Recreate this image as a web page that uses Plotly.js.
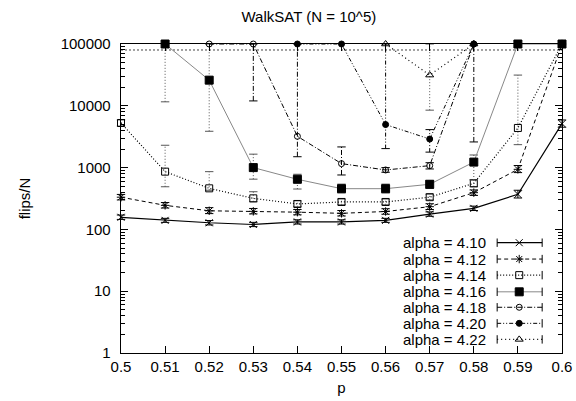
<!DOCTYPE html>
<html>
<head>
<meta charset="utf-8">
<script src="https://cdn.plot.ly/plotly-3.0.1.min.js"></script>
<style>html,body{margin:0;padding:0;background:#fff;}#chart{width:576px;height:401px;}</style>
</head>
<body>
<div id="chart"></div>
<script>
// ---- data ----
const p = [0.5, 0.51, 0.52, 0.53, 0.54, 0.55, 0.56, 0.57, 0.58, 0.59, 0.6];
const xTickText = ["0.5","0.51","0.52","0.53","0.54","0.55","0.56","0.57","0.58","0.59","0.6"];
const yTickVals = [1, 10, 100, 1000, 10000, 100000];
const yTickText = ["1","10","100","1000","10000","100000"];

const labels = ["alpha = 4.10","alpha = 4.12","alpha = 4.14","alpha = 4.16","alpha = 4.18","alpha = 4.20","alpha = 4.22"];

const a410 = [157, 140, 128, 120, 132, 132, 140, 177, 219, 370, 5140];
const a410lo = [145, 130, 118, 111, 122, 122, 130, 163, 202, 322, 4500];
const a410hi = [171, 151, 139, 130, 143, 143, 151, 192, 238, 430, 5900];

const a412 = [332, 245, 200, 196, 190, 182, 195, 233, 393, 938, 100000];
const a412lo = [300, 222, 180, 178, 172, 165, 176, 210, 355, 830, null];
const a412hi = [368, 272, 225, 218, 210, 202, 216, 260, 435, 1080, null];

const a414 = [5270, 860, 462, 318, 258, 278, 278, 332, 557, 4380, 100000];
const a414lo = [4700, 490, 430, 280, 232, 250, 250, 300, 490, 2350, null];
const a414hi = [5900, 2300, 860, 407, 290, 310, 310, 372, 640, 31400, null];

const a416 = [null, 100000, 26000, 1000, 647, 456, 456, 537, 1228, 100000, 100000];
const a416lo = [null, 11600, 3870, 650, 450, 390, 390, 460, 630, null, null];
const a416hi = [null, 100000, 100000, 1650, 780, 540, 540, 620, 1600, null, null];

const a418 = [null, null, 100000, 100000, 3210, 1160, 915, 1075, 100000, null, null];
const a418lo = [null, null, null, 12000, 1500, 760, 840, 950, 2600, null, null];
const a418hi = [null, null, null, 100000, 100000, 2160, 1000, 1200, 100000, null, null];

const a420 = [null, null, null, null, 100000, 100000, 4970, 2900, 100000, null, null];
const a420lo = [null, null, null, null, null, null, 2030, 1780, null, null, null];
const a420hi = [null, null, null, null, null, null, 100000, 4120, null, null, null];

const a422 = [null, null, null, null, null, null, 100000, 31400, 100000, null, null];
const a422lo = [null, null, null, null, null, null, null, 8500, null, null, null];
const a422hi = [null, null, null, null, null, null, null, 100000, null, null, null];

const cutoffX = [0.5, 0.6];
const cutoffY = [80000, 80000];

// ---- styles ----
const FONT = 'Liberation Sans, Arial, sans-serif';
const styles = [
  {color:'#000', dash:'solid', width:1.2, sym:'x-thin-open', size:7},
  {color:'#000', dash:'4px,3px', width:1, sym:'asterisk-open', size:7},
  {color:'#000', dash:'1px,2px', width:1.2, sym:'square-open', size:7},
  {color:'#888', dash:'solid', width:1, sym:'square', size:8},
  {color:'#000', dash:'5px,2px,1px,2px', width:1, sym:'circle-open', size:6},
  {color:'#000', dash:'4px,2px,1px,2px,1px,2px', width:1, sym:'circle', size:6},
  {color:'#000', dash:'1px,3px', width:1.2, sym:'triangle-up-open', size:7}
];
const barDash = ['solid','4px,3px','1px,2px','1px,2px','5px,2px,1px,2px','4px,2px,1px,2px,1px,2px','1px,2px'];
const barColor = ['#000','#000','#555','#555','#000','#000','#555'];

const series = [
  [a410, a410lo, a410hi], [a412, a412lo, a412hi], [a414, a414lo, a414hi],
  [a416, a416lo, a416hi], [a418, a418lo, a418hi], [a420, a420lo, a420hi], [a422, a422lo, a422hi]
];

const traces = [];
traces.push({x: cutoffX, y: cutoffY, mode:'lines', line:{color:'#444', dash:'2px,2px', width:1}, showlegend:false, hoverinfo:'skip'});

series.forEach((s, i) => {
  const [v, lo, hi] = s;
  const st = styles[i];
  const bx = [], by = [], cx = [], cy = [];
  p.forEach((xv, k) => {
    if (lo[k] !== null && hi[k] !== null) {
      bx.push(xv, xv, null); by.push(lo[k], hi[k], null);
      cx.push(xv, xv); cy.push(lo[k], hi[k]);
    }
  });
  traces.push({x: bx, y: by, mode:'lines', line:{color:barColor[i], dash:barDash[i], width:1}, showlegend:false, hoverinfo:'skip'});
  traces.push({x: cx, y: cy, mode:'markers', cliponaxis:false,
    marker:{symbol:'line-ew-open', size:6, color:barColor[i], line:{color:barColor[i], width:1}}, showlegend:false, hoverinfo:'skip'});
  traces.push({x: p, y: v, name: labels[i], mode:'lines+markers', cliponaxis:false,
    line:{color:st.color, dash:st.dash, width:st.width},
    marker:{symbol:st.sym, size:st.size, color:'#000', line:{color:'#000', width:1}},
    showlegend:false});
});

// ---- gnuplot-style key (text left, sample right) ----
const keyRowsY = [0.357, 0.304, 0.252, 0.198, 0.148, 0.096, 0.044];
const keyX0 = 0.853, keyX1 = 0.955, keyXm = 0.903, keyTextX = 0.832;
const annotations = [];
labels.forEach((lab, i) => {
  const st = styles[i];
  const yy = keyRowsY[i];
  traces.push({x:[keyX0, keyX1], y:[yy, yy], xaxis:'x2', yaxis:'y2', mode:'lines',
    line:{color:st.color, dash:st.dash, width:st.width}, showlegend:false, hoverinfo:'skip'});
  traces.push({x:[keyX0, keyX1], y:[yy, yy], xaxis:'x2', yaxis:'y2', mode:'markers',
    marker:{symbol:'line-ns-open', size:6, color:'#000', line:{color:'#000', width:1}}, showlegend:false, hoverinfo:'skip'});
  traces.push({x:[keyXm], y:[yy], xaxis:'x2', yaxis:'y2', mode:'markers',
    marker:{symbol:st.sym, size:st.size, color:'#000', line:{color:'#000', width:1}}, showlegend:false, hoverinfo:'skip'});
  annotations.push({xref:'paper', yref:'paper', x:keyTextX, y:yy, text:lab, showarrow:false,
    xanchor:'right', yanchor:'middle', font:{family:FONT, size:15, color:'#000'}});
});

const minorVals = [];
[1, 10, 100, 1000, 10000].forEach(d => { for (let k = 2; k <= 9; k++) minorVals.push(k * d); });

const layout = {
  width: 576, height: 401,
  margin: {l:121, r:14, t:44, b:48},
  paper_bgcolor:'#fff', plot_bgcolor:'#fff',
  font: {family:FONT, size:15, color:'#000'},
  title: {text:'WalkSAT (N = 10^5)', x:0.426, xref:'paper', xanchor:'center', y:0.958, yref:'container', yanchor:'middle',
    font:{family:FONT, size:15}},
  xaxis: {
    range:[0.5, 0.6], tickmode:'array', tickvals:p, ticktext:xTickText,
    ticks:'inside', ticklen:7, tickwidth:1, tickcolor:'#000',
    showline:true, linecolor:'#000', linewidth:1.3, mirror:'ticks',
    showgrid:false, zeroline:false,
    title:{text:'p', standoff:8, font:{size:15}}
  },
  yaxis: {
    type:'log', range:[0, 5], tickmode:'array', tickvals:yTickVals, ticktext:yTickText,
    ticks:'inside', ticklen:7, tickwidth:1, tickcolor:'#000',
    minor:{tickmode:'array', tickvals:minorVals, ticks:'inside', ticklen:4, tickcolor:'#000', showgrid:false},
    ticklabelstandoff:6,
    showline:true, linecolor:'#000', linewidth:1.3, mirror:'ticks',
    showgrid:false, zeroline:false,
    title:{text:'flips/N', standoff:26, font:{size:15}}
  },
  xaxis2: {overlaying:'x', range:[0,1], visible:false, fixedrange:true},
  yaxis2: {overlaying:'y', range:[0,1], visible:false, fixedrange:true},
  showlegend:false,
  annotations: annotations
};

Plotly.newPlot('chart', traces, layout, {displayModeBar:false, staticPlot:true});
</script>
</body>
</html>
